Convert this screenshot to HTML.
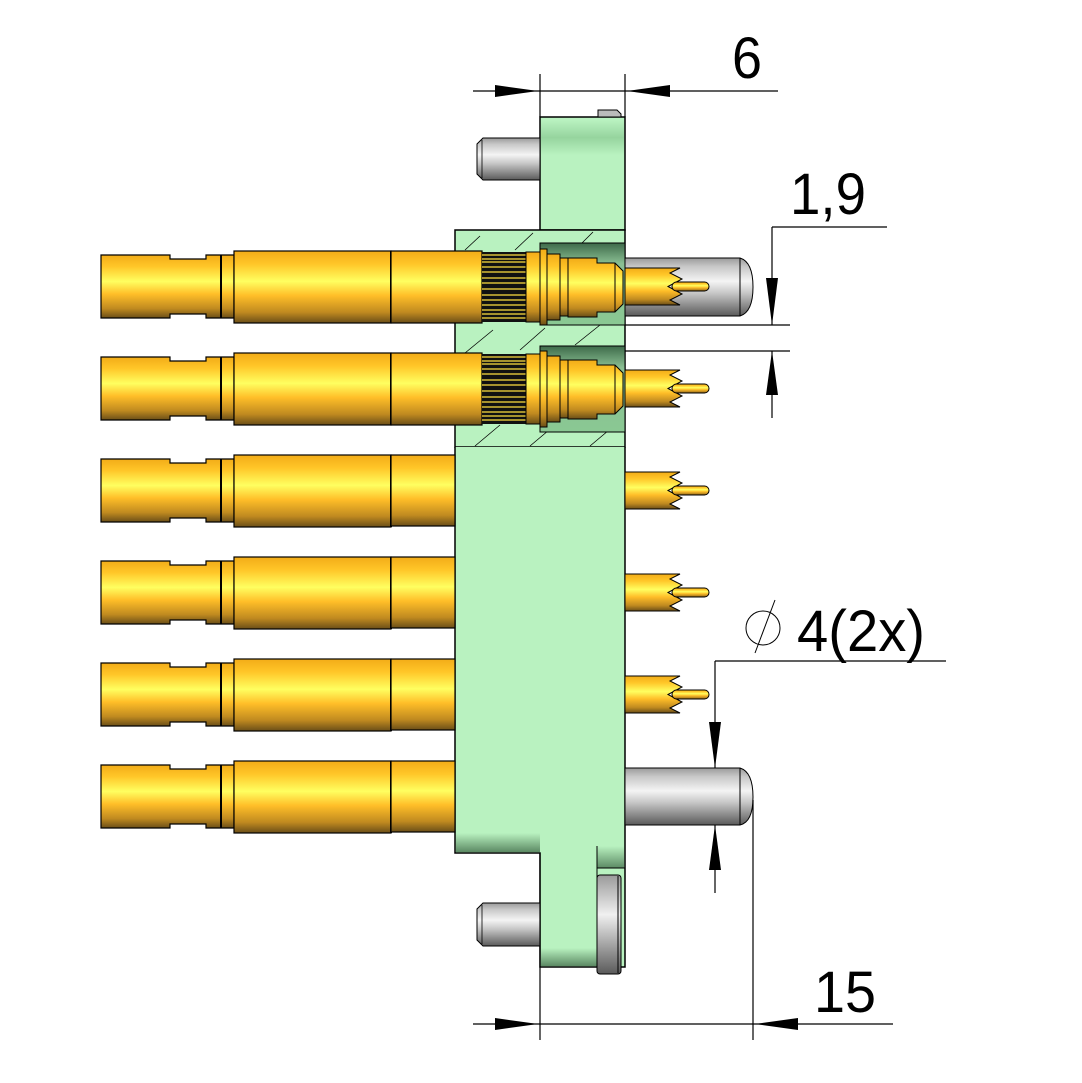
<!DOCTYPE html>
<html><head><meta charset="utf-8"><style>html,body{margin:0;padding:0;background:#fff}svg{display:block}</style></head>
<body>
<svg width="1082" height="1083" viewBox="0 0 1082 1083" xmlns="http://www.w3.org/2000/svg">
<defs>
<linearGradient id="gold" x1="0" y1="0" x2="0" y2="1">
<stop offset="0" stop-color="#f2ac18"/><stop offset="0.18" stop-color="#ffc628"/><stop offset="0.42" stop-color="#ffff60"/><stop offset="0.62" stop-color="#ffbe28"/><stop offset="0.85" stop-color="#c08a20"/><stop offset="1" stop-color="#6a4e18"/>
</linearGradient>
<linearGradient id="gray" x1="0" y1="0" x2="0" y2="1">
<stop offset="0" stop-color="#9a9a9a"/><stop offset="0.15" stop-color="#c8c8c8"/><stop offset="0.4" stop-color="#f4f4f4"/><stop offset="0.6" stop-color="#c8c8c8"/><stop offset="1" stop-color="#5a5a5a"/>
</linearGradient>
<linearGradient id="grayv" x1="0" y1="0" x2="0" y2="1">
<stop offset="0" stop-color="#9a9a9a"/><stop offset="0.4" stop-color="#f0f0f0"/><stop offset="1" stop-color="#5a5a5a"/>
</linearGradient>
<linearGradient id="cav" x1="0" y1="0" x2="0" y2="1">
<stop offset="0" stop-color="#3e6a4a"/><stop offset="0.25" stop-color="#8abf93"/><stop offset="1" stop-color="#8ac893"/>
</linearGradient>
<linearGradient id="shade" x1="0" y1="0" x2="0" y2="1">
<stop offset="0" stop-color="#b9f2c0"/><stop offset="1" stop-color="#5c8a64"/>
</linearGradient>
<linearGradient id="topband" x1="0" y1="0" x2="0" y2="1">
<stop offset="0" stop-color="#b9f2c0"/><stop offset="0.5" stop-color="#96d49e"/><stop offset="1" stop-color="#b9f2c0"/>
</linearGradient>
<g id="tail">
<path d="M101 255 H170 V259 H206 V255 H234 V318 H206 V314 H170 V318 H101 Z" fill="url(#gold)" stroke="#000" stroke-width="1.2"/>
<line x1="221" y1="255" x2="221" y2="318" stroke="#000" stroke-width="2"/>
<rect x="234" y="251" width="157" height="72" fill="url(#gold)" stroke="#000" stroke-width="1.2"/>
<line x1="391" y1="251" x2="391" y2="323" stroke="#000" stroke-width="2"/>
</g>
<g id="spin">
<path d="M625 0 H680 L670 5 L682 11 L668 18.5 L682 26 L670 32 L680 37 H625 Z" fill="url(#gold)" stroke="#000" stroke-width="1"/>
<rect x="672" y="14" width="37" height="9" rx="4.5" fill="url(#gold)" stroke="#000" stroke-width="1"/>
</g>
</defs>

<!-- upper plate -->
<rect x="540" y="117" width="85" height="113" fill="#b9f2c0" stroke="#000" stroke-width="1.5"/>
<rect x="541" y="120" width="83" height="35" fill="url(#topband)"/>
<path d="M598 117 V110 H617 L621 114 V117 Z" fill="#bbb" stroke="#000"/>
<!-- section -->
<rect x="455" y="230" width="170" height="217" fill="#b9f2c0" stroke="#000" stroke-width="1.5"/>
<g stroke="#000" stroke-width="0.8">
<line x1="465" y1="250" x2="480" y2="236"/><line x1="515" y1="250" x2="533" y2="233"/><line x1="575" y1="250" x2="593" y2="232"/>
<line x1="465" y1="353" x2="493" y2="330"/><line x1="520" y1="350" x2="545" y2="328"/><line x1="575" y1="345" x2="600" y2="325"/>
<line x1="475" y1="446" x2="500" y2="425"/><line x1="530" y1="446" x2="555" y2="425"/><line x1="590" y1="446" x2="615" y2="425"/>
</g>
<line x1="455" y1="230" x2="625" y2="230" stroke="#000"/>
<line x1="455" y1="447" x2="625" y2="447" stroke="#000"/>
<line x1="540" y1="325" x2="625" y2="325" stroke="#000"/>
<!-- cavities -->
<rect x="540" y="243" width="85" height="82" fill="url(#cav)" stroke="#000"/>
<rect x="540" y="346" width="85" height="86" fill="url(#cav)" stroke="#000"/>
<!-- main body + lower -->
<path d="M455 447 H625 V967 H540 V853 H455 Z" fill="#b9f2c0"/>
<rect x="456" y="833" width="84" height="19" fill="url(#shade)"/>
<rect x="541" y="948" width="56" height="18" fill="url(#shade)"/>
<rect x="597" y="846" width="27" height="22" fill="url(#shade)"/>
<path d="M455 447 V853 H540 V967 H625 V447" fill="none" stroke="#000" stroke-width="1.5"/>
<line x1="597" y1="846" x2="597" y2="967" stroke="#000"/>
<line x1="597" y1="868" x2="625" y2="868" stroke="#000"/>
<rect x="597" y="875" width="24" height="99" rx="3" fill="url(#grayv)" stroke="#000"/>
<line x1="618" y1="876" x2="618" y2="973" stroke="#000"/>
<!-- left pins -->
<path d="M540 138 H483 L477 144 V174 L483 180 H540 Z" fill="url(#gray)" stroke="#000"/>
<line x1="482" y1="140" x2="482" y2="178" stroke="#000" stroke-width="0.8"/>
<path d="M540 903 H483 L477 909 V940 L483 946 H540 Z" fill="url(#gray)" stroke="#000"/>
<line x1="482" y1="905" x2="482" y2="944" stroke="#000" stroke-width="0.8"/>
<!-- right big pins -->
<path d="M625 258 H740 Q753 262 753 287 Q753 312 740 316 H625 Z" fill="url(#gray)" stroke="#000"/>
<line x1="740" y1="258" x2="740" y2="316" stroke="#000"/>
<path d="M625 768 H740 Q753 772 753 797 Q753 822 740 825 H625 Z" fill="url(#gray)" stroke="#000"/>
<line x1="740" y1="768" x2="740" y2="825" stroke="#000"/>

<!-- gold tails -->
<use href="#tail"/>
<use href="#tail" y="102"/>
<use href="#tail" y="204"/>
<use href="#tail" y="306"/>
<use href="#tail" y="408"/>
<use href="#tail" y="510"/>
<rect x="391" y="455" width="64" height="71" fill="url(#gold)" stroke="#000" stroke-width="1.2"/>
<rect x="391" y="557" width="64" height="71" fill="url(#gold)" stroke="#000" stroke-width="1.2"/>
<rect x="391" y="659" width="64" height="71" fill="url(#gold)" stroke="#000" stroke-width="1.2"/>
<rect x="391" y="761" width="64" height="71" fill="url(#gold)" stroke="#000" stroke-width="1.2"/>

<!-- rows 1-2 inner -->
<g id="inner">
<rect x="391" y="251" width="91" height="72" fill="url(#gold)" stroke="#000" stroke-width="1.2"/>
<rect x="482" y="252" width="44" height="70" fill="#111"/>
<g stroke="#ffe040" stroke-width="1.2">
<line x1="482" y1="255" x2="526" y2="255"/><line x1="482" y1="259" x2="526" y2="259"/><line x1="482" y1="262" x2="526" y2="262"/><line x1="482" y1="267" x2="526" y2="267"/><line x1="482" y1="272" x2="526" y2="272"/><line x1="482" y1="278" x2="526" y2="278"/><line x1="482" y1="283" x2="526" y2="283"/><line x1="482" y1="289" x2="526" y2="289"/><line x1="482" y1="295" x2="526" y2="295"/><line x1="482" y1="300" x2="526" y2="300"/><line x1="482" y1="305" x2="526" y2="305"/><line x1="482" y1="310" x2="526" y2="310"/><line x1="482" y1="314" x2="526" y2="314"/><line x1="482" y1="318" x2="526" y2="318"/>
</g>
<rect x="526" y="252" width="14" height="70" fill="url(#gold)" stroke="#000"/>
<rect x="540" y="249" width="7" height="76" fill="url(#gold)" stroke="#000"/>
<rect x="547" y="254" width="13" height="66" fill="url(#gold)" stroke="#000"/>
<rect x="560" y="258" width="8" height="58" fill="url(#gold)" stroke="#000"/>
<path d="M568 258 H597 V263 H615 L623 271 V304 L615 312 H597 V317 H568 Z" fill="url(#gold)" stroke="#000"/>
<line x1="615" y1="263" x2="615" y2="312" stroke="#000"/>
</g>
<use href="#inner" y="102"/>
<use href="#spin" y="268"/>
<use href="#spin" y="370"/>
<use href="#spin" y="472"/>
<use href="#spin" y="574"/>
<use href="#spin" y="676"/>

<!-- dimensions -->
<g stroke="#000" stroke-width="1.2" fill="none">
<line x1="473" y1="91" x2="778" y2="91"/>
<line x1="540" y1="74" x2="540" y2="117"/><line x1="625" y1="74" x2="625" y2="117"/>
<line x1="772" y1="227" x2="887" y2="227"/><line x1="772" y1="227" x2="772" y2="325"/>
<line x1="625" y1="325" x2="790" y2="325"/><line x1="625" y1="351" x2="790" y2="351"/>
<line x1="772" y1="351" x2="772" y2="418"/>
<line x1="715" y1="661" x2="946" y2="661"/><line x1="715" y1="661" x2="715" y2="768"/>
<line x1="715" y1="825" x2="715" y2="893"/>
<line x1="473" y1="1024" x2="893" y2="1024"/>
<line x1="540" y1="853" x2="540" y2="1040"/><line x1="753" y1="800" x2="753" y2="1040"/>
<circle cx="763" cy="628" r="17" stroke-width="1"/><line x1="755" y1="653" x2="775" y2="600" stroke-width="1"/>
</g>
<g fill="#000">
<polygon points="495,85 538,91 495,97"/>
<polygon points="670,85 627,91 670,97"/>
<polygon points="766,278 772,325 778,278"/>
<polygon points="766,395 772,351 778,395"/>
<polygon points="709,722 715,768 721,722"/>
<polygon points="709,870 715,825 721,870"/>
<polygon points="495,1018 538,1024 495,1030"/>
<polygon points="798,1018 755,1024 798,1030"/>
</g>
<g font-family="Liberation Sans, sans-serif" font-size="58" fill="#000">
<text x="732" y="78" textLength="30" lengthAdjust="spacingAndGlyphs">6</text>
<text x="790" y="214" textLength="76" lengthAdjust="spacingAndGlyphs">1,9</text>
<text x="797" y="651" textLength="128" lengthAdjust="spacingAndGlyphs">4(2x)</text>
<text x="814" y="1012" textLength="62" lengthAdjust="spacingAndGlyphs">15</text>
</g>
</svg>
</body></html>
